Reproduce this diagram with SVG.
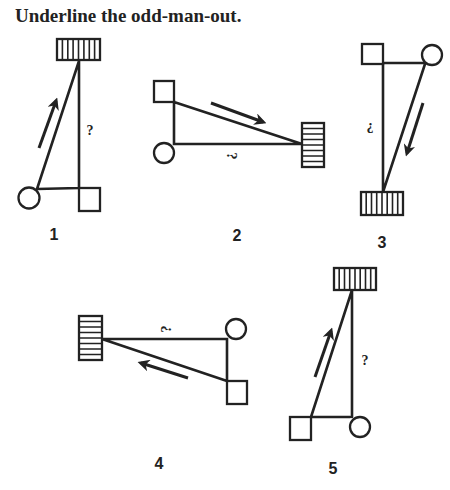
<svg xmlns="http://www.w3.org/2000/svg" width="450" height="490" viewBox="0 0 450 490">
<style>
.ln{stroke:#222;stroke-width:2.6;fill:none;stroke-linecap:round}
.sh{stroke:#222;stroke-width:2.3;fill:#fff}
.ht{stroke:#222;stroke-width:1.6}
.ar{stroke:#222;stroke-width:3;fill:none;marker-end:url(#ah)}
.lb{font-family:"Liberation Sans",Arial,sans-serif;font-weight:bold;font-size:16px;fill:#222;text-anchor:middle}
.q{font-family:"Liberation Serif",serif;font-weight:bold;font-size:14px;fill:#222;text-anchor:middle}
</style>
<defs>
<marker id="ah" viewBox="0 0 10 10" refX="7" refY="5" markerWidth="4" markerHeight="4" orient="auto" markerUnits="strokeWidth">
<path d="M0,0 L10,5 L0,10 L3,5 z" fill="#222"/>
</marker>
</defs>
<rect width="450" height="490" fill="#fff"/>
<text x="15" y="22" font-family="Liberation Serif,serif" font-weight="bold" font-size="19" fill="#222">Underline the odd-man-out.</text>

<g id="connectors">
<!-- fig 1 -->
<path class="ln" d="M79,61 L79,188 M37,189 L79,188 M37,189 L79,61"/>
<path class="ar" d="M39,148 L56,101"/>
<!-- fig 2 -->
<path class="ln" d="M174,101 L174,144 L302,144 M174,102 L302,144"/>
<path class="ar" d="M211,103 L263,122"/>
<!-- fig 3 -->
<path class="ln" d="M383,63 L425,63 M383,64 L383,192 M425,64 L383,192"/>
<path class="ar" d="M423,103 L407,153"/>
<!-- fig 4 -->
<path class="ln" d="M102,339 L227,339 L227,381 M102,339 L227,381"/>
<path class="ar" d="M188,378 L141,363"/>
<!-- fig 5 -->
<path class="ln" d="M352,290 L352,417 M311,417 L350,417 M311,417 L352,290"/>
<path class="ar" d="M315,377 L331,331"/>
</g>

<g id="fig1-wall">
<rect class="sh" x="57" y="39" width="43" height="21"/>
<path class="ht" d="M62.4,39v21M67.8,39v21M73.1,39v21M78.5,39v21M83.9,39v21M89.3,39v21M94.6,39v21"/>
</g>
<g id="fig1-square"><rect class="sh" x="79" y="188" width="21" height="23"/></g>
<g id="fig1-circle"><circle class="sh" cx="29" cy="198" r="10.5"/></g>
<g id="fig1-label"><text class="q" x="90" y="135">?</text><text class="lb" x="54" y="240">1</text></g>

<g id="fig2-wall">
<rect class="sh" x="302" y="123" width="22" height="44"/>
<path class="ht" d="M302,128.5h22M302,134h22M302,139.5h22M302,145h22M302,150.5h22M302,156h22M302,161.5h22"/>
</g>
<g id="fig2-square"><rect class="sh" x="154" y="81" width="20" height="21"/></g>
<g id="fig2-circle"><circle class="sh" cx="164" cy="153" r="10"/></g>
<g id="fig2-label"><text class="q" transform="translate(231,156) rotate(90)" x="0" y="4">?</text><text class="lb" x="237" y="241">2</text></g>

<g id="fig3-wall">
<rect class="sh" x="361" y="192" width="42" height="23"/>
<path class="ht" d="M366.2,192v23M371.5,192v23M376.7,192v23M382,192v23M387.2,192v23M392.5,192v23M397.7,192v23"/>
</g>
<g id="fig3-square"><rect class="sh" x="362" y="44" width="21" height="20"/></g>
<g id="fig3-circle"><circle class="sh" cx="432" cy="55" r="10"/></g>
<g id="fig3-label"><text class="q" transform="translate(370,128) rotate(180)" x="0" y="5">?</text><text class="lb" x="382" y="248">3</text></g>

<g id="fig4-wall">
<rect class="sh" x="79" y="316" width="23" height="44"/>
<path class="ht" d="M79,321.5h23M79,327h23M79,332.5h23M79,338h23M79,343.5h23M79,349h23M79,354.5h23"/>
</g>
<g id="fig4-square"><rect class="sh" x="227" y="381" width="20" height="23"/></g>
<g id="fig4-circle"><circle class="sh" cx="236" cy="329" r="10"/></g>
<g id="fig4-label"><text class="q" transform="translate(167,329) rotate(-90)" x="0" y="4">?</text><text class="lb" x="159" y="469">4</text></g>

<g id="fig5-wall">
<rect class="sh" x="334" y="268" width="42" height="22"/>
<path class="ht" d="M339.2,268v22M344.5,268v22M349.7,268v22M355,268v22M360.2,268v22M365.5,268v22M370.7,268v22"/>
</g>
<g id="fig5-square"><rect class="sh" x="290" y="417" width="21" height="23"/></g>
<g id="fig5-circle"><circle class="sh" cx="360" cy="427" r="10"/></g>
<g id="fig5-label"><text class="q" x="365" y="365">?</text><text class="lb" x="333" y="474">5</text></g>
</svg>
